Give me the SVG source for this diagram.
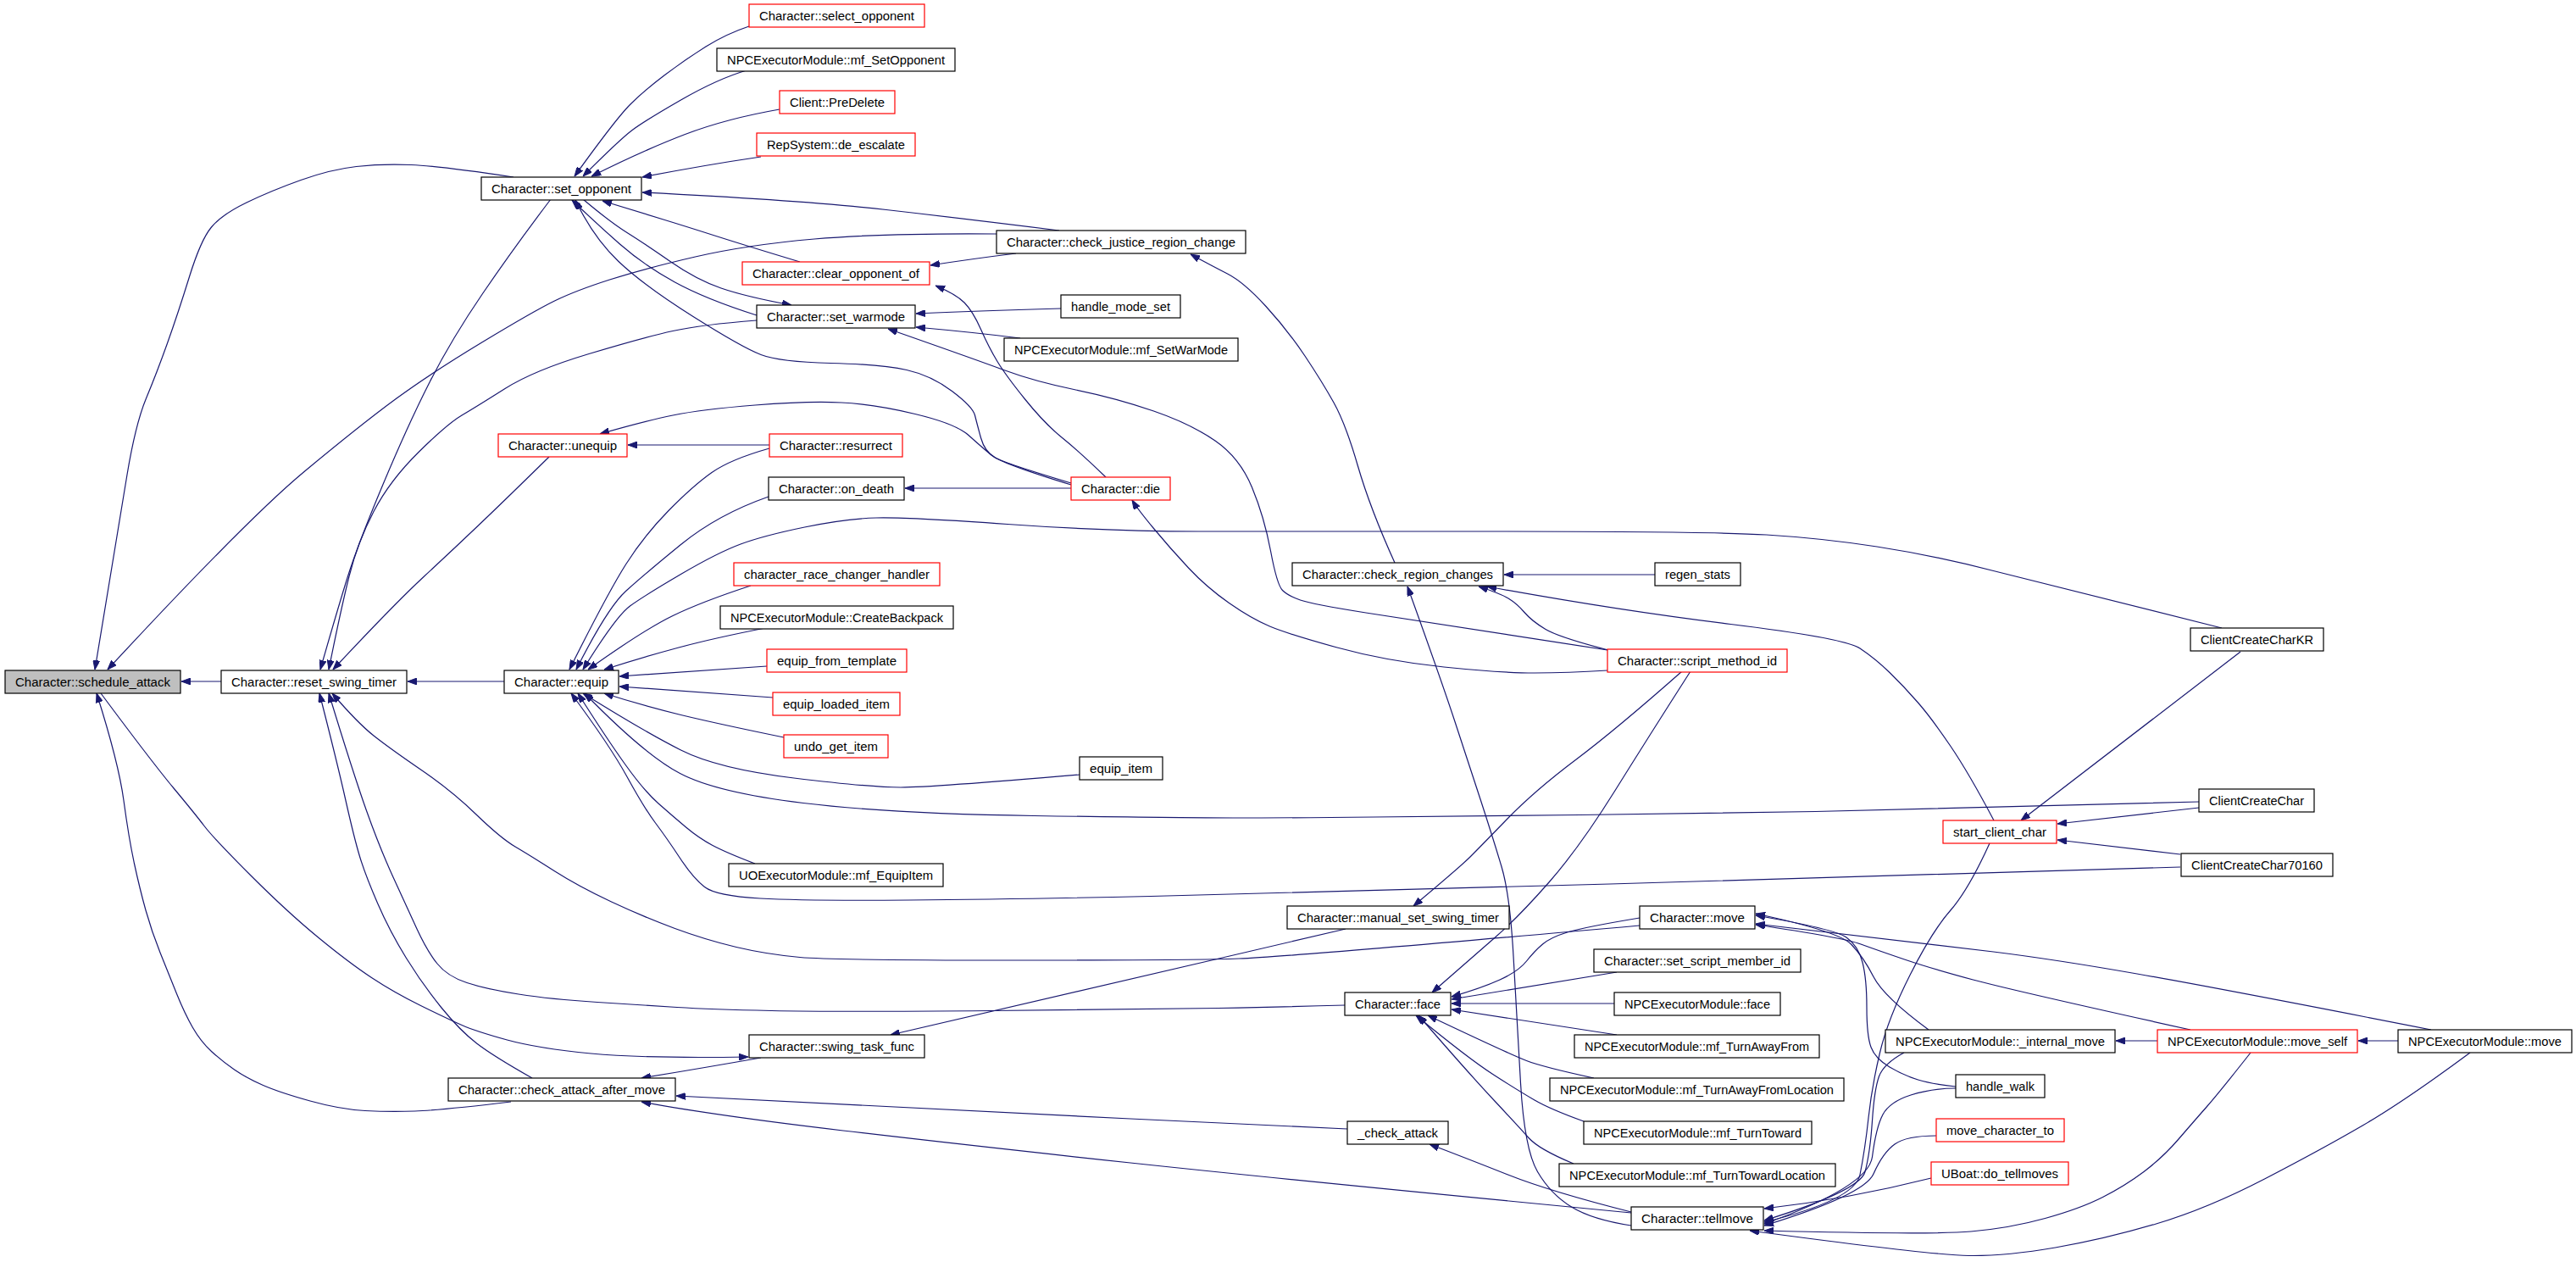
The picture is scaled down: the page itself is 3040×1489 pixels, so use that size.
<svg xmlns="http://www.w3.org/2000/svg" width="3040" height="1489" viewBox="0 0 3040 1489">
<style>
.n rect{fill:#fff;stroke:#000;stroke-width:1.2}
.n.r rect{stroke:#ff0000}
.n.g rect{fill:#bfbfbf}
.n text{font-family:"Liberation Sans",Arial,sans-serif;font-size:14px;fill:#000;text-anchor:middle}
.e path{fill:none;stroke:#191970;stroke-width:1.2;stroke-linejoin:round;marker-end:url(#ah)}
</style>
<defs>
<marker id="ah" viewBox="0 0 11 8" refX="11" refY="4" markerWidth="11" markerHeight="8" markerUnits="userSpaceOnUse" orient="auto">
<path d="M0,0 L11,4 L0,8 z" fill="#191970" stroke="#191970" stroke-width="1"/>
</marker>
</defs>
<rect width="3040" height="1489" fill="#fff"/>
<g id="edges" class="e">
<path d="M261,804 L214,804"/>
<path d="M606,209 Q520,196 485.5,194.5 Q451,193 420.5,196.5 Q390,200 355,212.5 Q320,225 291,239 Q262,253 249.5,268 Q237,283 223.5,326.5 Q210,370 197.5,405 Q185,440 172.5,470 Q160,500 150,560 Q140,620 112,790"/>
<path d="M1176,276 Q1041,275 961,282 Q881,289 820.5,303 Q760,317 719.5,330 Q679,343 654.5,355 Q630,367 569.5,403.5 Q509,440 468,470 Q427,500 359,556.5 Q291,613 127,790"/>
<path d="M603,1300 Q519,1310 489.5,1311 Q460,1312 431,1310.5 Q402,1309 366,1299 Q330,1289 310.5,1280.5 Q291,1272 276.5,1262 Q262,1252 249.5,1240.5 Q237,1229 227.5,1212.5 Q218,1196 208.5,1172.5 Q199,1149 189,1124 Q179,1099 172,1074 Q165,1049 158.5,1019 Q152,989 146,944.5 Q140,900 114,818"/>
<path d="M119,818 Q180,900 205,930 Q230,960 241,974.5 Q252,989 295.5,1032.5 Q339,1076 375.5,1106 Q412,1136 438.5,1153.5 Q465,1171 496.5,1186.5 Q528,1202 545,1209.5 Q562,1217 598.5,1227 Q635,1237 697.5,1243 Q760,1249 883,1247"/>
<path d="M595,804 L481,804"/>
<path d="M650,235 Q606,293 569.5,346.5 Q533,400 507.5,450 Q482,500 452,571.5 Q422,643 410,681.5 Q398,720 378,790"/>
<path d="M893,378 Q828,383 794,390.5 Q760,398 695,417.5 Q630,437 596,458.5 Q562,480 545,490 Q528,500 494,533.5 Q460,567 441,603.5 Q422,640 412,680 Q402,720 388,790"/>
<path d="M648,539 Q596,590 564.5,620 Q533,650 499,681.5 Q465,713 393,790"/>
<path d="M1935,1092 Q1520,1129 1462.5,1131 Q1405,1133 1194,1133 Q983,1133 944,1129.5 Q905,1126 869,1117.5 Q833,1109 796.5,1095.5 Q760,1082 721.5,1064 Q683,1046 654,1027.5 Q625,1009 608,999 Q591,989 562,961 Q533,933 496.5,908 Q460,883 441,868 Q422,853 392,818"/>
<path d="M1587,1186 Q1520,1188 1438,1189.5 Q1356,1191 1169.5,1192.5 Q983,1194 910.5,1192.5 Q838,1191 799,1188.5 Q760,1186 705,1182.5 Q650,1179 612,1173 Q574,1167 551,1159.5 Q528,1152 516,1137 Q504,1122 492,1096 Q480,1070 464,1035 Q448,1000 432.5,956.5 Q417,913 388,818"/>
<path d="M628,1272 Q582,1246 562.5,1231 Q543,1216 521,1189 Q499,1162 479.5,1130.5 Q460,1099 445.5,1065.5 Q431,1032 424.5,1010.5 Q418,989 408,944.5 Q398,900 377,818"/>
<path d="M908,529 Q862,542 840,557.5 Q818,573 789,602.5 Q760,632 738.5,666 Q717,700 672,790"/>
<path d="M907,586 Q847,607 803.5,642.5 Q760,678 738.5,697.5 Q717,717 680,790"/>
<path d="M2622,741 Q2425,692 2352.5,673.5 Q2280,655 2215,645 Q2150,635 2084.5,631 Q2019,627 1769.5,627 Q1520,627 1414,627 Q1308,627 1189,618.5 Q1070,610 1034,611 Q998,612 949.5,622 Q901,632 874,642 Q847,652 803.5,677.5 Q760,703 743.5,715 Q727,727 688,790"/>
<path d="M886,691 Q828,710 794,726.5 Q760,743 694,790"/>
<path d="M903,741 Q842,753 801,764 Q760,775 713,790"/>
<path d="M905,786 Q760,796 731,798"/>
<path d="M912,823 Q760,812 731,810"/>
<path d="M925,870 Q847,854 803.5,843.5 Q760,833 713,818"/>
<path d="M1274,914 Q1099,929 1063,929 Q1027,929 937,918 Q847,907 803.5,885 Q760,863 688,818"/>
<path d="M2595,946 Q2280,955 2142.5,957.5 Q2005,960 1864.5,961.5 Q1724,963 1622,964 Q1520,965 1455,965 Q1390,965 1220.5,962.5 Q1051,960 948,947.5 Q845,935 802.5,912.5 Q760,890 690,818"/>
<path d="M891,1019 Q857,1006 841,997.5 Q825,989 809.5,976 Q794,963 777,948 Q760,933 737.5,901.5 Q715,870 682,818"/>
<path d="M2573,1023 Q2280,1032 1900,1043 Q1520,1054 1358,1057.5 Q1196,1061 1072.5,1062 Q949,1063 897,1060 Q845,1057 831.5,1046.5 Q818,1036 802.5,1012.5 Q787,989 773.5,971 Q760,953 740,916.5 Q720,880 674,818"/>
<path d="M908,525 L741,525"/>
<path d="M1264,572 Q1182,547 1170,537 Q1158,527 1143,513.5 Q1128,500 1080,488.5 Q1032,477 993,475 Q954,473 891,478 Q828,483 794,490 Q760,497 708,512"/>
<path d="M884,31 Q857,40 833,55 Q809,70 784.5,88.5 Q760,107 743.5,123.5 Q727,140 678,208"/>
<path d="M881,83 Q847,93 803.5,118 Q760,143 745.5,154 Q731,165 688,208"/>
<path d="M920,129 Q857,140 808.5,158.5 Q760,177 698,208"/>
<path d="M898,185 Q830,195 758,209"/>
<path d="M1250,272 Q1138,258 1046,247.5 Q954,237 758,227"/>
<path d="M944,309 Q881,290 845,278.5 Q809,267 784.5,259.5 Q760,252 711,237"/>
<path d="M893,372 Q833,353 796.5,333 Q760,313 731.5,288 Q703,263 675,236"/>
<path d="M1264,570 Q1187,547 1174.5,540 Q1162,533 1157.5,516.5 Q1153,500 1150.5,490 Q1148,480 1123.5,461.5 Q1099,443 1070,436.5 Q1041,430 980.5,428.5 Q920,427 898,418.5 Q876,410 818,373.5 Q760,337 730,308.5 Q700,280 679,236"/>
<path d="M688,235 Q720,262 740,274.5 Q760,287 791,308.5 Q822,330 851,340 Q880,350 934,360"/>
<path d="M1199,299 Q1150,305 1098,313"/>
<path d="M1305,563 Q1274,533 1253.5,516.5 Q1233,500 1210,471.5 Q1187,443 1177,426.5 Q1167,410 1157.5,388.5 Q1148,367 1138,357 Q1128,347 1104,337"/>
<path d="M1252,364 Q1148,367 1081,370"/>
<path d="M1204,399 Q1148,392 1081,386"/>
<path d="M1897,767 Q1675,733 1612,723 Q1549,713 1534.5,708 Q1520,703 1513.5,696.5 Q1507,690 1499.5,650 Q1492,610 1477.5,575 Q1463,540 1434,520 Q1405,500 1361.5,485 Q1318,470 1269.5,460 Q1221,450 1184.5,436.5 Q1148,423 1048,388"/>
<path d="M1897,791 Q1850,794 1811,794 Q1772,794 1704,787 Q1636,780 1578,764 Q1520,748 1498.5,739 Q1477,730 1450.5,711.5 Q1424,693 1402.5,670 Q1381,647 1361.5,623.5 Q1342,600 1336,590"/>
<path d="M1264,576 L1068,576"/>
<path d="M1646,664 Q1617,600 1602.5,550 Q1588,500 1574,475 Q1560,450 1540,420 Q1520,390 1494,361.5 Q1468,333 1448.5,323 Q1429,313 1405,300"/>
<path d="M1953,678 L1775,678"/>
<path d="M1898,767 Q1840,752 1824,742.5 Q1808,733 1799,722.5 Q1790,712 1780,706 Q1770,700 1745,692"/>
<path d="M2353,968 Q2324,913 2302,880.5 Q2280,848 2263.5,829 Q2247,810 2230,793.5 Q2213,777 2195,765 Q2177,753 2042.5,736.5 Q1908,720 1755,692"/>
<path d="M1925,1446 Q1879,1439 1854.5,1424 Q1830,1409 1814.5,1382.5 Q1799,1356 1794.5,1278 Q1790,1200 1786,1128 Q1782,1056 1772,1022.5 Q1762,989 1747.5,944.5 Q1733,900 1716.5,850 Q1700,800 1661,692"/>
<path d="M1985,792 Q1908,860 1859.5,896.5 Q1811,933 1778.5,966.5 Q1746,1000 1735,1011 Q1724,1022 1668,1069"/>
<path d="M1588,1096 Q1520,1112 1434,1132 Q1167,1194 1051,1221"/>
<path d="M1995,792 Q1947,867 1905.5,933.5 Q1864,1000 1828,1041 Q1792,1082 1765,1105.5 Q1738,1129 1690,1171"/>
<path d="M898,1248 Q830,1260 757,1272"/>
<path d="M1590,1332 Q1520,1329 1334,1320 Q1148,1311 798,1293"/>
<path d="M1925,1431 Q1520,1392 1334,1372 Q1148,1352 995,1334 Q842,1316 757,1300"/>
<path d="M1925,1430 Q1830,1406 1779.5,1386 Q1729,1366 1687,1350"/>
<path d="M1935,1083 Q1869,1094 1849.5,1100 Q1830,1106 1820.5,1114 Q1811,1122 1801.5,1134 Q1792,1146 1770,1156 Q1748,1166 1713,1176"/>
<path d="M1908,1147 L1713,1179"/>
<path d="M1905,1184 L1713,1184"/>
<path d="M1908,1221 L1713,1191"/>
<path d="M1881,1272 Q1821,1259 1801.5,1251.5 Q1782,1244 1685,1198"/>
<path d="M1869,1323 Q1830,1309 1811,1298 Q1792,1287 1762.5,1268 Q1733,1249 1671,1198"/>
<path d="M1857,1373 Q1816,1356 1804,1342.5 Q1792,1329 1762.5,1297.5 Q1733,1266 1674,1198"/>
<path d="M2644,769 Q2542,847 2385,968"/>
<path d="M2595,953 L2428,972"/>
<path d="M2573,1008 L2428,991"/>
<path d="M2348,995 Q2323,1050 2301.5,1074.5 Q2280,1099 2254,1150.5 Q2228,1202 2218.5,1242 Q2209,1282 2205,1319 Q2201,1356 2195,1386 Q2189,1416 2082,1442"/>
<path d="M2276,1215 Q2223,1176 2211,1152.5 Q2199,1129 2184.5,1114 Q2170,1099 2072,1078"/>
<path d="M2308,1282 Q2280,1279 2263.5,1274 Q2247,1269 2230,1259 Q2213,1249 2208,1235.5 Q2203,1222 2203,1188.5 Q2203,1155 2198,1135.5 Q2193,1116 2179,1106 Q2165,1096 2072,1080"/>
<path d="M2585,1215 Q2377,1169 2328.5,1156 Q2280,1143 2249,1132.5 Q2218,1122 2196,1114 Q2174,1106 2072,1091"/>
<path d="M2869,1215 Q2619,1166 2522,1149 Q2425,1132 2352.5,1123 Q2280,1114 2072,1090"/>
<path d="M2247,1242 Q2223,1255 2217.5,1270 Q2212,1285 2209.5,1322.5 Q2207,1360 2201,1382.5 Q2195,1405 2082,1440"/>
<path d="M2308,1284 Q2280,1284 2255,1292 Q2230,1300 2222,1315 Q2214,1330 2209.5,1365 Q2205,1400 2082,1444"/>
<path d="M2285,1340 Q2250,1340 2236,1350 Q2222,1360 2211,1385 Q2200,1410 2082,1446"/>
<path d="M2279,1390 Q2180,1415 2082,1426"/>
<path d="M2656,1242 Q2619,1289 2604.5,1305.5 Q2590,1322 2571,1344 Q2552,1366 2530,1382.5 Q2508,1399 2481.5,1412.5 Q2455,1426 2413.5,1437.5 Q2372,1449 2326,1453 Q2280,1457 2082,1452"/>
<path d="M2915,1242 Q2838,1299 2789,1327.5 Q2740,1356 2672.5,1391 Q2605,1426 2544.5,1444 Q2484,1462 2425.5,1472 Q2367,1482 2323.5,1481.5 Q2280,1481 2065,1452"/>
<path d="M2546,1228 L2497,1228"/>
<path d="M2830,1228 L2783,1228"/>
</g>
<g id="SA" class="n g"><rect x="6" y="791" width="207" height="27"/><text x="109.5" y="809.5" textLength="183" lengthAdjust="spacingAndGlyphs">Character::schedule_attack</text></g>
<g id="RST" class="n"><rect x="261" y="791" width="219" height="27"/><text x="370.5" y="809.5" textLength="195" lengthAdjust="spacingAndGlyphs">Character::reset_swing_timer</text></g>
<g id="SO" class="n"><rect x="568" y="209" width="189" height="27"/><text x="662.5" y="227.5" textLength="165" lengthAdjust="spacingAndGlyphs">Character::set_opponent</text></g>
<g id="UNEQ" class="n r"><rect x="588" y="512" width="152" height="27"/><text x="664" y="530.5" textLength="128" lengthAdjust="spacingAndGlyphs">Character::unequip</text></g>
<g id="EQUIP" class="n"><rect x="595" y="791" width="135" height="27"/><text x="662.5" y="809.5" textLength="111" lengthAdjust="spacingAndGlyphs">Character::equip</text></g>
<g id="CAAM" class="n"><rect x="529" y="1272" width="268" height="27"/><text x="663" y="1290.5" textLength="244" lengthAdjust="spacingAndGlyphs">Character::check_attack_after_move</text></g>
<g id="SELOPP" class="n r"><rect x="884" y="5" width="207" height="27"/><text x="987.5" y="23.5" textLength="183" lengthAdjust="spacingAndGlyphs">Character::select_opponent</text></g>
<g id="MFSETOPP" class="n"><rect x="846" y="57" width="281" height="27"/><text x="986.5" y="75.5" textLength="257" lengthAdjust="spacingAndGlyphs">NPCExecutorModule::mf_SetOpponent</text></g>
<g id="PREDEL" class="n r"><rect x="920" y="107" width="136" height="27"/><text x="988" y="125.5" textLength="112" lengthAdjust="spacingAndGlyphs">Client::PreDelete</text></g>
<g id="DEESC" class="n r"><rect x="893" y="157" width="187" height="27"/><text x="986.5" y="175.5" textLength="163" lengthAdjust="spacingAndGlyphs">RepSystem::de_escalate</text></g>
<g id="CLROPP" class="n r"><rect x="876" y="309" width="221" height="27"/><text x="986.5" y="327.5" textLength="197" lengthAdjust="spacingAndGlyphs">Character::clear_opponent_of</text></g>
<g id="SETWAR" class="n"><rect x="893" y="360" width="187" height="27"/><text x="986.5" y="378.5" textLength="163" lengthAdjust="spacingAndGlyphs">Character::set_warmode</text></g>
<g id="RESURRECT" class="n r"><rect x="908" y="512" width="157" height="27"/><text x="986.5" y="530.5" textLength="133" lengthAdjust="spacingAndGlyphs">Character::resurrect</text></g>
<g id="ONDEATH" class="n"><rect x="907" y="563" width="160" height="27"/><text x="987" y="581.5" textLength="136" lengthAdjust="spacingAndGlyphs">Character::on_death</text></g>
<g id="RACE" class="n r"><rect x="866" y="664" width="243" height="27"/><text x="987.5" y="682.5" textLength="219" lengthAdjust="spacingAndGlyphs">character_race_changer_handler</text></g>
<g id="BACKPACK" class="n"><rect x="850" y="715" width="275" height="27"/><text x="987.5" y="733.5" textLength="251" lengthAdjust="spacingAndGlyphs">NPCExecutorModule::CreateBackpack</text></g>
<g id="EQTPL" class="n r"><rect x="905" y="766" width="165" height="27"/><text x="987.5" y="784.5" textLength="141" lengthAdjust="spacingAndGlyphs">equip_from_template</text></g>
<g id="EQLOAD" class="n r"><rect x="912" y="817" width="150" height="27"/><text x="987" y="835.5" textLength="126" lengthAdjust="spacingAndGlyphs">equip_loaded_item</text></g>
<g id="UNDO" class="n r"><rect x="925" y="867" width="123" height="27"/><text x="986.5" y="885.5" textLength="99" lengthAdjust="spacingAndGlyphs">undo_get_item</text></g>
<g id="UOEQ" class="n"><rect x="860" y="1019" width="253" height="27"/><text x="986.5" y="1037.5" textLength="229" lengthAdjust="spacingAndGlyphs">UOExecutorModule::mf_EquipItem</text></g>
<g id="STF" class="n"><rect x="884" y="1221" width="207" height="27"/><text x="987.5" y="1239.5" textLength="183" lengthAdjust="spacingAndGlyphs">Character::swing_task_func</text></g>
<g id="CJRC" class="n"><rect x="1176" y="272" width="294" height="27"/><text x="1323" y="290.5" textLength="270" lengthAdjust="spacingAndGlyphs">Character::check_justice_region_change</text></g>
<g id="HMS" class="n"><rect x="1252" y="348" width="141" height="27"/><text x="1322.5" y="366.5" textLength="117" lengthAdjust="spacingAndGlyphs">handle_mode_set</text></g>
<g id="MFSETWAR" class="n"><rect x="1185" y="399" width="276" height="27"/><text x="1323" y="417.5" textLength="252" lengthAdjust="spacingAndGlyphs">NPCExecutorModule::mf_SetWarMode</text></g>
<g id="DIE" class="n r"><rect x="1264" y="563" width="117" height="27"/><text x="1322.5" y="581.5" textLength="93" lengthAdjust="spacingAndGlyphs">Character::die</text></g>
<g id="EQITEM" class="n"><rect x="1274" y="893" width="98" height="27"/><text x="1323" y="911.5" textLength="74" lengthAdjust="spacingAndGlyphs">equip_item</text></g>
<g id="CRC" class="n"><rect x="1525" y="664" width="249" height="27"/><text x="1649.5" y="682.5" textLength="225" lengthAdjust="spacingAndGlyphs">Character::check_region_changes</text></g>
<g id="MSST" class="n"><rect x="1519" y="1069" width="262" height="27"/><text x="1650" y="1087.5" textLength="238" lengthAdjust="spacingAndGlyphs">Character::manual_set_swing_timer</text></g>
<g id="FACE" class="n"><rect x="1587" y="1171" width="125" height="27"/><text x="1649.5" y="1189.5" textLength="101" lengthAdjust="spacingAndGlyphs">Character::face</text></g>
<g id="CHKATT" class="n"><rect x="1590" y="1323" width="119" height="27"/><text x="1649.5" y="1341.5" textLength="95" lengthAdjust="spacingAndGlyphs">_check_attack</text></g>
<g id="REGEN" class="n"><rect x="1953" y="664" width="101" height="27"/><text x="2003.5" y="682.5" textLength="77" lengthAdjust="spacingAndGlyphs">regen_stats</text></g>
<g id="SMI" class="n r"><rect x="1897" y="766" width="212" height="27"/><text x="2003" y="784.5" textLength="188" lengthAdjust="spacingAndGlyphs">Character::script_method_id</text></g>
<g id="MOVE" class="n"><rect x="1935" y="1069" width="136" height="27"/><text x="2003" y="1087.5" textLength="112" lengthAdjust="spacingAndGlyphs">Character::move</text></g>
<g id="SSMI" class="n"><rect x="1881" y="1120" width="244" height="27"/><text x="2003" y="1138.5" textLength="220" lengthAdjust="spacingAndGlyphs">Character::set_script_member_id</text></g>
<g id="NPCFACE" class="n"><rect x="1905" y="1171" width="196" height="27"/><text x="2003" y="1189.5" textLength="172" lengthAdjust="spacingAndGlyphs">NPCExecutorModule::face</text></g>
<g id="TAF" class="n"><rect x="1858" y="1221" width="289" height="27"/><text x="2002.5" y="1239.5" textLength="265" lengthAdjust="spacingAndGlyphs">NPCExecutorModule::mf_TurnAwayFrom</text></g>
<g id="TAFL" class="n"><rect x="1829" y="1272" width="347" height="27"/><text x="2002.5" y="1290.5" textLength="323" lengthAdjust="spacingAndGlyphs">NPCExecutorModule::mf_TurnAwayFromLocation</text></g>
<g id="TT" class="n"><rect x="1869" y="1323" width="269" height="27"/><text x="2003.5" y="1341.5" textLength="245" lengthAdjust="spacingAndGlyphs">NPCExecutorModule::mf_TurnToward</text></g>
<g id="TTL" class="n"><rect x="1840" y="1373" width="326" height="27"/><text x="2003" y="1391.5" textLength="302" lengthAdjust="spacingAndGlyphs">NPCExecutorModule::mf_TurnTowardLocation</text></g>
<g id="TELL" class="n"><rect x="1925" y="1424" width="156" height="27"/><text x="2003" y="1442.5" textLength="132" lengthAdjust="spacingAndGlyphs">Character::tellmove</text></g>
<g id="SCC" class="n r"><rect x="2293" y="968" width="134" height="27"/><text x="2360" y="986.5" textLength="110" lengthAdjust="spacingAndGlyphs">start_client_char</text></g>
<g id="INTMOVE" class="n"><rect x="2225" y="1215" width="271" height="27"/><text x="2360.5" y="1233.5" textLength="247" lengthAdjust="spacingAndGlyphs">NPCExecutorModule::_internal_move</text></g>
<g id="HWALK" class="n"><rect x="2308" y="1268" width="105" height="27"/><text x="2360.5" y="1286.5" textLength="81" lengthAdjust="spacingAndGlyphs">handle_walk</text></g>
<g id="MCT" class="n r"><rect x="2285" y="1320" width="151" height="27"/><text x="2360.5" y="1338.5" textLength="127" lengthAdjust="spacingAndGlyphs">move_character_to</text></g>
<g id="UBOAT" class="n r"><rect x="2279" y="1371" width="162" height="27"/><text x="2360" y="1389.5" textLength="138" lengthAdjust="spacingAndGlyphs">UBoat::do_tellmoves</text></g>
<g id="CCKR" class="n"><rect x="2585" y="741" width="157" height="27"/><text x="2663.5" y="759.5" textLength="133" lengthAdjust="spacingAndGlyphs">ClientCreateCharKR</text></g>
<g id="CCC" class="n"><rect x="2595" y="931" width="136" height="27"/><text x="2663" y="949.5" textLength="112" lengthAdjust="spacingAndGlyphs">ClientCreateChar</text></g>
<g id="CC70" class="n"><rect x="2574" y="1007" width="179" height="27"/><text x="2663.5" y="1025.5" textLength="155" lengthAdjust="spacingAndGlyphs">ClientCreateChar70160</text></g>
<g id="MOVESELF" class="n r"><rect x="2546" y="1215" width="236" height="27"/><text x="2664" y="1233.5" textLength="212" lengthAdjust="spacingAndGlyphs">NPCExecutorModule::move_self</text></g>
<g id="NPCMOVE" class="n"><rect x="2830" y="1215" width="205" height="27"/><text x="2932.5" y="1233.5" textLength="181" lengthAdjust="spacingAndGlyphs">NPCExecutorModule::move</text></g>
</svg>
